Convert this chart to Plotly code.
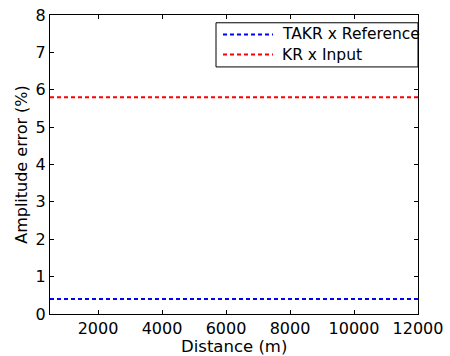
import plotly.graph_objects as go

# Amplitude error versus distance for two estimators
distance_m = [500, 12000]
takr_vs_reference = [0.40, 0.40]
kr_vs_input = [5.80, 5.80]

series_names = ["TAKR x Reference", "KR x Input"]
series_colors = ["#0000ff", "#ff0000"]
x_ticks = [2000, 4000, 6000, 8000, 10000, 12000]
y_ticks = [0, 1, 2, 3, 4, 5, 6, 7, 8]

FONT = "DejaVu Sans"
W, H = 450, 356
M = dict(l=50, r=32, t=6, b=42)
DASH = "4px,3px"

fig = go.Figure()
for name, color, vals in zip(series_names, series_colors, [takr_vs_reference, kr_vs_input]):
    fig.add_trace(go.Scatter(
        x=distance_m, y=vals, mode="lines", name=name,
        line=dict(color=color, width=2, dash=DASH),
    ))

axis_common = dict(
    showline=True, linecolor="black", linewidth=1, mirror="ticks",
    ticks="inside", ticklen=4, tickcolor="black", showgrid=False,
    zeroline=False, ticklabeloverflow="allow",
)

# pixel -> paper helpers for the boxed legend
pw = W - M["l"] - M["r"]
ph = H - M["t"] - M["b"]
def px(x):
    return (x - M["l"]) / pw
def py(y):
    return 1 - (y - M["t"]) / ph

shapes = [dict(type="rect", xref="paper", yref="paper",
               x0=px(216), x1=1, y0=py(59.5), y1=py(14),
               line=dict(color="black", width=1), fillcolor="white", layer="above")]
annotations = []
for i, (name, color) in enumerate(zip(series_names, series_colors)):
    yc = py(26 + 20.7 * i)
    shapes.append(dict(type="line", xref="paper", yref="paper",
                       x0=px(223), x1=px(273), y0=yc, y1=yc, layer="above",
                       line=dict(color=color, width=2, dash=DASH)))
    annotations.append(dict(xref="paper", yref="paper", x=px(280), y=yc,
                            xanchor="left", yanchor="middle", showarrow=False,
                            text=name, font=dict(family=FONT, size=15.5, color="black")))

# x-axis title placed just under the tick labels
annotations.append(dict(xref="paper", yref="paper", x=0.5, y=py(347),
                        xanchor="center", yanchor="middle", showarrow=False,
                        text="Distance (m)", font=dict(family=FONT, size=16.5, color="black")))

fig.update_layout(
    width=W, height=H,
    margin=M,
    paper_bgcolor="white", plot_bgcolor="white",
    font=dict(family=FONT, color="black", size=16),
    showlegend=False,
    shapes=shapes,
    annotations=annotations,
    xaxis=dict(
        range=[500, 12000], tickvals=x_ticks,
        ticktext=[str(v) for v in x_ticks],
        tickfont=dict(family=FONT, size=16),
        **axis_common,
    ),
    yaxis=dict(
        range=[0, 8], tickvals=y_ticks,
        tickfont=dict(family=FONT, size=16),
        title=dict(text="Amplitude error (%)", font=dict(family=FONT, size=16), standoff=4),
        **axis_common,
    ),
)

fig.write_html("out.html")
